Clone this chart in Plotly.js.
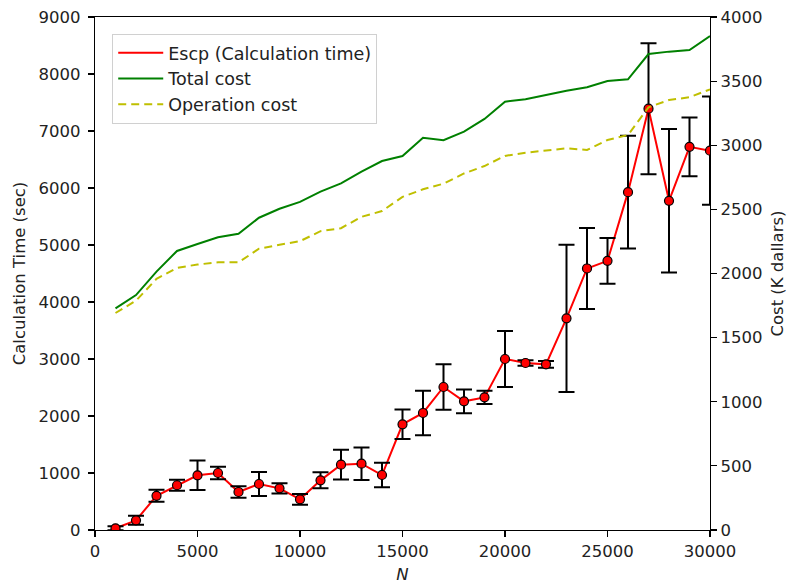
<!DOCTYPE html>
<html>
<head>
<meta charset="utf-8">
<script src="https://cdn.plot.ly/plotly-3.0.1.min.js"></script>
<style>
  html, body { margin: 0; padding: 0; background: #fff; }
  #chart { width: 792px; height: 586px; }
</style>
</head>
<body>
<div id="chart"></div>
<script>
// ---- data ----
const N = [1000, 2000, 3000, 4000, 5000, 6000, 7000, 8000, 9000, 10000,
           11000, 12000, 13000, 14000, 15000, 16000, 17000, 18000, 19000, 20000,
           21000, 22000, 23000, 24000, 25000, 26000, 27000, 28000, 29000, 30000];
const escpTime = [30, 170, 600, 785, 960, 1000, 667, 807, 731, 538,
                  871, 1146, 1164, 965, 1854, 2053, 2509, 2257, 2327, 3000,
                  2930, 2906, 3713, 4588, 4722, 5927, 7391, 5775, 6722, 6655];
const escpErr = [35, 80, 105, 95, 260, 110, 100, 210, 90, 95,
                 140, 260, 285, 215, 258, 390, 400, 210, 115, 490,
                 50, 60, 1292, 712, 400, 990, 1148, 1258, 515, 950];
const totalCost = [1728, 1832, 2015, 2176, 2230, 2282, 2310, 2435, 2505, 2558,
                   2638, 2703, 2794, 2877, 2916, 3059, 3039, 3106, 3205, 3340,
                   3358, 3392, 3425, 3452, 3501, 3514, 3711, 3730, 3743, 3852];
const operationCost = [1692, 1788, 1958, 2044, 2070, 2087, 2087, 2193, 2224, 2252,
                       2330, 2353, 2442, 2487, 2597, 2657, 2700, 2780, 2838, 2917,
                       2942, 2958, 2976, 2963, 3041, 3080, 3296, 3353, 3374, 3436];
const xTicks = [0, 5000, 10000, 15000, 20000, 25000, 30000];
const yTicks = [0, 1000, 2000, 3000, 4000, 5000, 6000, 7000, 8000, 9000];
const y2Ticks = [0, 500, 1000, 1500, 2000, 2500, 3000, 3500, 4000];

const FONT = 'DejaVu Sans, sans-serif';
const FS = 16.5;

const traces = [
  {
    x: N, y: escpTime, type: 'scatter', mode: 'lines',
    name: 'Escp (Calculation time)',
    line: { color: '#ff0000', width: 2 },
    yaxis: 'y'
  },
  {
    x: N, y: escpTime, type: 'scatter', mode: 'markers',
    showlegend: false, name: 'Escp',
    marker: { color: '#ff0000', size: 9, line: { color: '#000', width: 1.2 } },
    error_y: { type: 'data', array: escpErr, visible: true, color: '#000', thickness: 2, width: 8 },
    yaxis: 'y'
  },
  {
    x: N, y: totalCost, type: 'scatter', mode: 'lines',
    name: 'Total cost',
    line: { color: '#008000', width: 2 },
    yaxis: 'y2'
  },
  {
    x: N, y: operationCost, type: 'scatter', mode: 'lines',
    name: 'Operation cost',
    line: { color: '#bfbf00', width: 2, dash: '8px,5px' },
    yaxis: 'y2'
  }
];

const axisCommon = {
  showgrid: false, zeroline: false,
  showline: true, linecolor: '#000', linewidth: 1.2,
  ticks: 'outside', ticklen: 6, tickwidth: 1.2, tickcolor: '#000',
  tickfont: { family: FONT, size: FS, color: '#222' }
};

const layout = {
  width: 792, height: 586,
  margin: { l: 95, r: 82, t: 17, b: 56 },
  paper_bgcolor: '#fff', plot_bgcolor: '#fff',
  font: { family: FONT, size: FS, color: '#222' },
  xaxis: Object.assign({}, axisCommon, {
    range: [0, 30000], tickvals: xTicks, ticktext: xTicks.map(String),
    mirror: true,
    title: { text: '<i>N</i>', font: { family: FONT, size: FS, color: '#222' }, standoff: 8 }
  }),
  yaxis: Object.assign({}, axisCommon, {
    range: [0, 9000], tickvals: yTicks, ticktext: yTicks.map(String),
    ticklabelstandoff: 4,
    title: { text: 'Calculation Time (sec)', font: { family: FONT, size: FS, color: '#222' }, standoff: 8 }
  }),
  yaxis2: Object.assign({}, axisCommon, {
    range: [0, 4000], tickvals: y2Ticks, ticktext: y2Ticks.map(String),
    overlaying: 'y', side: 'right',
    title: { text: 'Cost (K dallars)', font: { family: FONT, size: FS, color: '#222' }, standoff: 10 }
  }),
  legend: {
    x: 0.028, y: 0.967, xanchor: 'left', yanchor: 'top',
    bgcolor: 'rgba(255,255,255,0.8)', bordercolor: '#d0d0d0', borderwidth: 1,
    font: { family: FONT, size: 17.5, color: '#222' },
    itemwidth: 45,
    tracegroupgap: 0
  },
  showlegend: true
};

Plotly.newPlot('chart', traces, layout, { staticPlot: true, displayModeBar: false });
</script>
</body>
</html>
